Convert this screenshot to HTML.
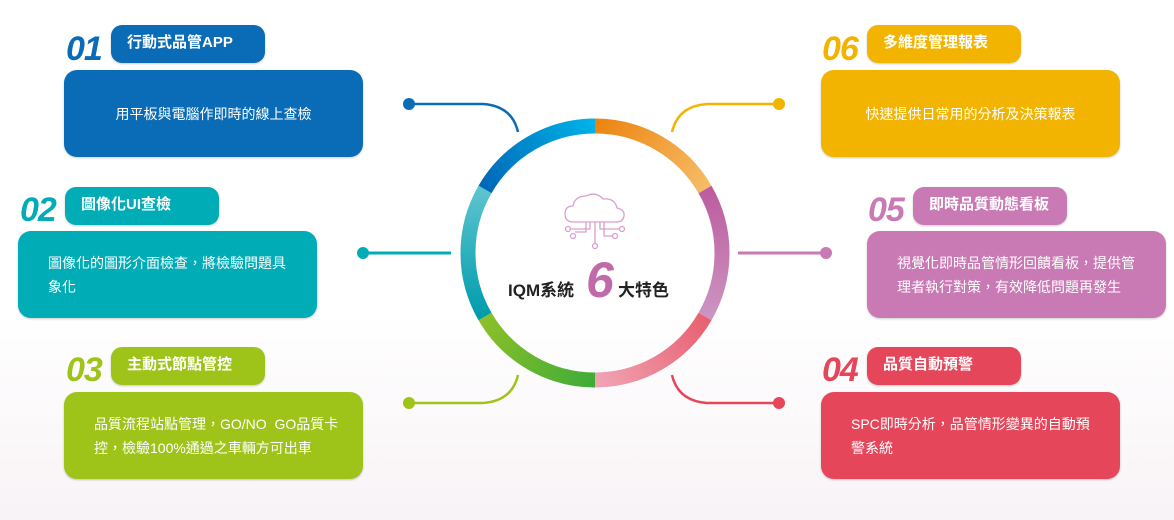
<!DOCTYPE html>
<html><head><meta charset="utf-8"><style>
body{margin:0;width:1174px;height:520px;overflow:hidden;background:linear-gradient(#fff 0%,#fff 60%,#f8f3f6 100%);font-family:"Liberation Sans","Noto Sans CJK TC",sans-serif;position:relative}
.n{position:absolute;font-style:italic;font-weight:bold;font-size:34px;line-height:34px;letter-spacing:-1px}
.p{position:absolute;height:38px;width:154px;border-radius:11px;color:#fff;font-weight:bold;font-size:15px;line-height:36px;box-sizing:border-box;padding-left:16px;box-shadow:0 1px 2px rgba(0,0,0,.2)}
.b{position:absolute;width:299px;height:87px;border-radius:13px;color:#fff;font-size:14px;line-height:24px;box-sizing:border-box;box-shadow:0 1px 2px rgba(0,0,0,.2);display:flex;align-items:center;padding:0 10px 0 30px;white-space:nowrap}
svg{position:absolute;left:0;top:0}
</style></head><body>
<svg width="1174" height="520">
<defs>
<linearGradient id="g1" gradientUnits="userSpaceOnUse" x1="485" y1="190" x2="595" y2="126"><stop offset="0" stop-color="#0068b8"/><stop offset="1" stop-color="#00b2e8"/></linearGradient>
<linearGradient id="g2" gradientUnits="userSpaceOnUse" x1="595" y1="126" x2="705" y2="190"><stop offset="0" stop-color="#ec8410"/><stop offset="1" stop-color="#f6bc66"/></linearGradient>
<linearGradient id="g3" gradientUnits="userSpaceOnUse" x1="705" y1="190" x2="705" y2="316"><stop offset="0" stop-color="#bc5c9e"/><stop offset="1" stop-color="#cc94c2"/></linearGradient>
<linearGradient id="g4" gradientUnits="userSpaceOnUse" x1="705" y1="316" x2="595" y2="380"><stop offset="0" stop-color="#e86070"/><stop offset="1" stop-color="#f0a4b4"/></linearGradient>
<linearGradient id="g5" gradientUnits="userSpaceOnUse" x1="595" y1="380" x2="485" y2="316"><stop offset="0" stop-color="#40ac38"/><stop offset="1" stop-color="#8cc028"/></linearGradient>
<linearGradient id="g6" gradientUnits="userSpaceOnUse" x1="485" y1="316" x2="485" y2="190"><stop offset="0" stop-color="#009cac"/><stop offset="1" stop-color="#5cc4cf"/></linearGradient>
</defs>
<g fill="none" stroke-width="15">
<path d="M485,189.5 A127,127 0 0 1 595,126" stroke="url(#g1)"/>
<path d="M595,126 A127,127 0 0 1 705,189.5" stroke="url(#g2)"/>
<path d="M705,189.5 A127,127 0 0 1 705,316.5" stroke="url(#g3)"/>
<path d="M705,316.5 A127,127 0 0 1 595,380" stroke="url(#g4)"/>
<path d="M595,380 A127,127 0 0 1 485,316.5" stroke="url(#g5)"/>
<path d="M485,316.5 A127,127 0 0 1 485,189.5" stroke="url(#g6)"/>
</g>
<g fill="none" stroke-width="2.5">
<path d="M409,104 H483 Q512,106 518,132" stroke="#0a6cb6"/>
<path d="M779,104 H707 Q678,106 672,132" stroke="#f2b400"/>
<path d="M363,253 H451" stroke="#00acb6" stroke-width="3"/>
<path d="M738,253 H826" stroke="#c97ab4" stroke-width="3"/>
<path d="M409,403 H483 Q512,401 518,375" stroke="#9ec41a"/>
<path d="M779,403 H707 Q678,401 672,375" stroke="#e5465a"/>
</g>
<circle cx="409" cy="104" r="6" fill="#0a6cb6"/>
<circle cx="779" cy="104" r="6" fill="#f2b400"/>
<circle cx="363" cy="253" r="6" fill="#00acb6"/>
<circle cx="826" cy="253" r="6" fill="#c97ab4"/>
<circle cx="409" cy="403" r="6" fill="#9ec41a"/>
<circle cx="779" cy="403" r="6" fill="#e5465a"/>
<g fill="none" stroke="#d9a0cc" stroke-width="1.3">
<path d="M574,222 Q565,222 565,214 Q565,206 573,206 Q575,196 586,196 Q596,191 603,199 Q615,198 617,208 Q625,210 624,216 Q623,222 616,222 Z"/>
<path d="M595,222 V243 M586,222 V232 H575 M604,222 V236 H612 M590,222 V229 H571 M600,222 V229 H619"/>
<circle cx="595" cy="246" r="2.5"/><circle cx="573" cy="236" r="2.5"/><circle cx="615" cy="236" r="2.5"/><circle cx="568" cy="229" r="2.5"/><circle cx="622" cy="229" r="2.5"/>
</g>
</svg>
<div style="position:absolute;left:508px;top:276px;font-weight:bold;font-size:17px;color:#222">IQM系統</div>
<div style="position:absolute;left:586px;top:254px;font-weight:bold;font-style:italic;font-size:50px;color:#c06aaa;line-height:52px">6</div>
<div style="position:absolute;left:618px;top:276px;font-weight:bold;font-size:17px;color:#222">大特色</div>

<div class="n" style="left:66px;top:32px;color:#0a6cb6">01</div>
<div class="p" style="left:111px;top:25px;background:#0a6cb6">行動式品管APP</div>
<div class="b" style="left:64px;top:70px;background:#0a6cb6;justify-content:center;padding:0">用平板與電腦作即時的線上查檢</div>

<div class="n" style="left:20px;top:193px;color:#00acb6">02</div>
<div class="p" style="left:65px;top:187px;background:#00acb6">圖像化UI查檢</div>
<div class="b" style="left:18px;top:231px;background:#00acb6">圖像化的圖形介面檢查，將檢驗問題具<br>象化</div>

<div class="n" style="left:66px;top:353px;color:#9ec41a">03</div>
<div class="p" style="left:111px;top:347px;background:#9ec41a">主動式節點管控</div>
<div class="b" style="left:64px;top:392px;background:#9ec41a">品質流程站點管理，GO/NO&nbsp; GO品質卡<br>控，檢驗100%通過之車輛方可出車</div>

<div class="n" style="left:822px;top:32px;color:#f2b400">06</div>
<div class="p" style="left:867px;top:25px;background:#f2b400">多維度管理報表</div>
<div class="b" style="left:821px;top:70px;background:#f2b400;justify-content:center;padding:0">快速提供日常用的分析及決策報表</div>

<div class="n" style="left:868px;top:193px;color:#c97ab4">05</div>
<div class="p" style="left:913px;top:187px;background:#c97ab4">即時品質動態看板</div>
<div class="b" style="left:867px;top:231px;background:#c97ab4">視覺化即時品管情形回饋看板，提供管<br>理者執行對策，有效降低問題再發生</div>

<div class="n" style="left:822px;top:353px;color:#e5465a">04</div>
<div class="p" style="left:867px;top:347px;background:#e5465a">品質自動預警</div>
<div class="b" style="left:821px;top:392px;background:#e5465a">SPC即時分析，品管情形變異的自動預<br>警系統</div>
</body></html>
